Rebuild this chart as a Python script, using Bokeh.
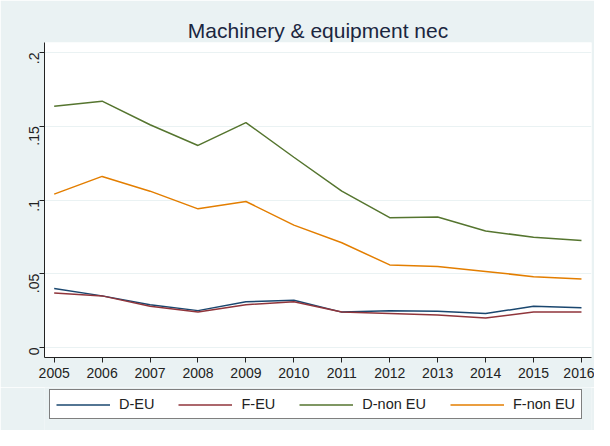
from bokeh.plotting import figure
from bokeh.models import Legend, LegendItem, Range1d, FixedTicker
from bokeh.layouts import column
from bokeh.embed import file_html
from bokeh.resources import INLINE
import math

# ---- data ----
years = [2005, 2006, 2007, 2008, 2009, 2010, 2011, 2012, 2013, 2014, 2015, 2016]
d_eu = [0.040, 0.035, 0.029, 0.025, 0.031, 0.032, 0.024, 0.025, 0.0245, 0.023, 0.028, 0.027]
f_eu = [0.037, 0.035, 0.028, 0.024, 0.029, 0.031, 0.024, 0.023, 0.022, 0.020, 0.024, 0.024]
d_non_eu = [0.1635, 0.167, 0.151, 0.137, 0.1525, 0.129, 0.106, 0.088, 0.0885, 0.079, 0.0748, 0.0725]
f_non_eu = [0.104, 0.116, 0.106, 0.094, 0.099, 0.083, 0.071, 0.056, 0.055, 0.0516, 0.048, 0.0465]
series_names = ["D-EU", "F-EU", "D-non EU", "F-non EU"]
y_ticks = [0, 0.05, 0.1, 0.15, 0.2]
y_tick_labels = ["0", ".05", ".1", ".15", ".2"]
x_ticks = years
title_text = "Machinery & equipment nec"

colors = ["#1a476f", "#90353b", "#55752f", "#e37e00"]
FONT = "Liberation Sans"
BG = "#eaf2f3"

p = figure(width=594, height=387, output_backend="svg", toolbar_location=None,
           x_range=Range1d(2004.798, 2016.209), y_range=Range1d(-0.00678, 0.2068),
           min_border_left=44, min_border_right=3, min_border_top=42, min_border_bottom=30)

p.border_fill_color = BG
p.background_fill_color = "white"
p.outline_line_color = None

p.title.text = title_text
p.title.align = "center"
p.title.text_font = FONT
p.title.text_font_size = "21px"
p.title.text_font_style = "normal"
p.title.text_color = "#1a2640"
p.title.standoff = 1

all_series = [d_eu, f_eu, d_non_eu, f_non_eu]
for vals, c in zip(all_series, colors):
    p.line(years, vals, line_color=c, line_width=1.5)

# axes
for ax in (p.xaxis[0], p.yaxis[0]):
    ax.axis_line_color = "#222222"
    ax.major_tick_line_color = "#222222"
    ax.major_tick_out = 5
    ax.major_tick_in = 0
    ax.minor_tick_line_color = None
    ax.major_label_text_font = FONT
    ax.major_label_text_font_size = "14px"
    ax.major_label_text_color = "#222222"
    ax.major_label_standoff = 5

p.xaxis[0].ticker = FixedTicker(ticks=x_ticks)
p.yaxis[0].ticker = FixedTicker(ticks=y_ticks)
p.yaxis[0].major_label_overrides = {t: l for t, l in zip(y_ticks, y_tick_labels)}
p.yaxis[0].major_label_orientation = math.pi / 2

p.xgrid.grid_line_color = None
p.ygrid.grid_line_color = BG
p.ygrid.grid_line_width = 1.2
p.ygrid.ticker = FixedTicker(ticks=y_ticks)

# ---- legend strip (separate figure below) ----
q = figure(width=594, height=43, output_backend="svg", toolbar_location=None,
           x_range=Range1d(0, 1), y_range=Range1d(0, 1),
           x_axis_type=None, y_axis_type=None,
           min_border_left=0, min_border_right=0, min_border_top=0, min_border_bottom=0)
q.border_fill_color = BG
q.background_fill_color = BG
q.outline_line_color = None
q.xgrid.grid_line_color = None
q.ygrid.grid_line_color = None

legend_renderers = []
for vals, c in zip(all_series, colors):
    # same series; they lie outside this strip's ranges, only their legend keys show
    legend_renderers.append(q.line(years, vals, line_color=c, line_width=1.5))

legend = Legend(
    items=[LegendItem(label=n, renderers=[r]) for n, r in zip(series_names, legend_renderers)],
    orientation="horizontal",
    location=(5, 11),
    label_text_font=FONT,
    label_text_font_size="14.5px",
    label_text_color="#222222",
    glyph_width=54, glyph_height=15, label_height=15,
    label_standoff=9, spacing=24, padding=6, margin=0,
    border_line_color="black", border_line_width=1,
    background_fill_color="white", background_fill_alpha=1.0,
)
q.add_layout(legend, "center")

layout = column(p, q, spacing=0)
open("out.html", "w").write(file_html(layout, INLINE))
